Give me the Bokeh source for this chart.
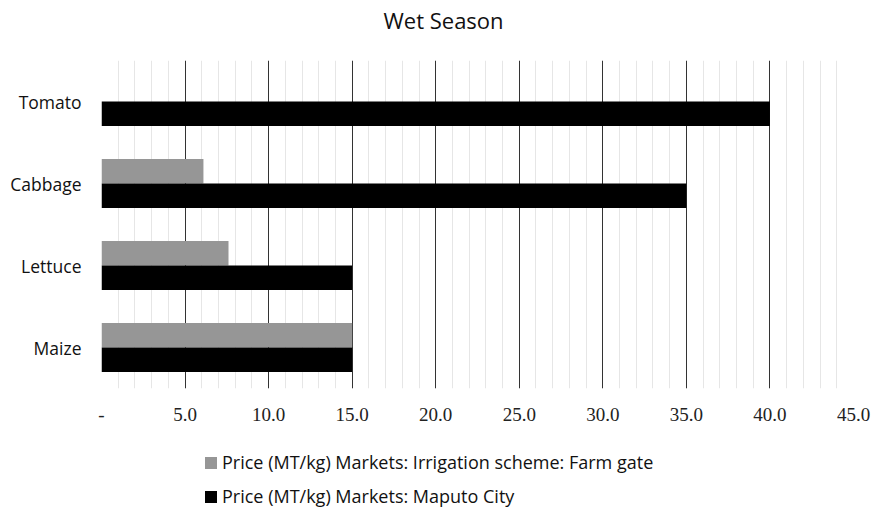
from bokeh.plotting import figure
from bokeh.layouts import column
from bokeh.models import (FactorRange, Range1d, SingleIntervalTicker, CustomJSTickFormatter,
                          Legend, LegendItem, ColumnDataSource, Title)
from bokeh.transform import dodge
from bokeh.embed import file_html
from bokeh.resources import INLINE

crops = ["Maize", "Lettuce", "Cabbage", "Tomato"]
farm_gate = [15.0, 7.6, 6.1, 0.0]
maputo_city = [15.0, 15.0, 35.0, 40.0]
series_names = ["Price (MT/kg) Markets: Irrigation scheme: Farm gate",
                "Price (MT/kg) Markets: Maputo City"]
series_colors = ["#969696", "#000000"]
chart_title = "Wet Season"

src = ColumnDataSource(dict(crop=crops, farm=farm_gate, city=maputo_city))

# Title strip
tf = figure(width=876, height=40, output_backend="svg", toolbar_location=None,
            x_range=Range1d(0, 1), y_range=Range1d(0, 1),
            x_axis_location=None, y_axis_location=None,
            min_border_left=101, min_border_right=23, min_border_top=0, min_border_bottom=0)
tf.outline_line_color = None
tf.xgrid.grid_line_color = None
tf.ygrid.grid_line_color = None
tf.title = Title(text=chart_title, align="left", offset=282, text_font="Open Sans",
                 text_font_size="22px", text_font_style="normal", text_color="#111111",
                 vertical_align="bottom", standoff=4)

p = figure(width=876, height=398, output_backend="svg", toolbar_location=None,
           y_range=FactorRange(factors=crops, range_padding=0),
           x_range=Range1d(0, 45),
           min_border_left=101, min_border_right=23, min_border_top=20, min_border_bottom=50)
p.outline_line_color = None
p.background_fill_color = "white"

r1 = p.hbar(y=dodge("crop", 0.15, range=p.y_range), right="farm", left=0, height=0.3,
            source=src, fill_color=series_colors[0], line_color=None)
r2 = p.hbar(y=dodge("crop", -0.15, range=p.y_range), right="city", left=0, height=0.3,
            source=src, fill_color=series_colors[1], line_color=None)

ticker = SingleIntervalTicker(interval=5, num_minor_ticks=5)
p.xaxis.ticker = ticker
p.xgrid.ticker = ticker
p.xgrid.grid_line_color = "#333333"
p.xgrid.grid_line_width = 1
p.xgrid.minor_grid_line_color = "#e6e6e6"
p.xgrid.minor_grid_line_width = 1
p.ygrid.grid_line_color = None

p.xaxis.formatter = CustomJSTickFormatter(code="return tick == 0 ? '-' : tick.toFixed(1);")
p.xaxis.axis_line_color = None
p.xaxis.major_tick_line_color = None
p.xaxis.minor_tick_line_color = None
p.xaxis.major_tick_out = 0
p.xaxis.minor_tick_out = 0
p.xaxis.major_label_standoff = 19
p.xaxis.major_label_text_font = "Liberation Serif"
p.xaxis.major_label_text_font_size = "19px"
p.xaxis.major_label_text_color = "#222222"

p.yaxis.axis_line_color = None
p.yaxis.major_tick_line_color = None
p.yaxis.minor_tick_line_color = None
p.yaxis.major_tick_out = 0
p.yaxis.major_label_standoff = 20
p.yaxis.major_label_text_font = "Open Sans"
p.yaxis.major_label_text_font_size = "17.5px"
p.yaxis.major_label_text_color = "#111111"

# Legend strip below the chart
lg = figure(width=876, height=75, output_backend="svg", toolbar_location=None,
            x_range=Range1d(0, 1), y_range=Range1d(0, 1),
            x_axis_location=None, y_axis_location=None,
            min_border_left=0, min_border_right=0, min_border_top=0, min_border_bottom=0)
lg.outline_line_color = None
lg.xgrid.grid_line_color = None
lg.ygrid.grid_line_color = None
proxy = ColumnDataSource(dict(y=[0.5], right=[0.0]))
g1 = lg.hbar(y="y", right="right", left=0, height=0.3, source=proxy,
             fill_color=series_colors[0], line_color=None)
g2 = lg.hbar(y="y", right="right", left=0, height=0.3, source=proxy,
             fill_color=series_colors[1], line_color=None)

legend = Legend(items=[LegendItem(label=series_names[0], renderers=[g1]),
                       LegendItem(label=series_names[1], renderers=[g2])],
                location=(102, 5), orientation="vertical",
                glyph_width=15, glyph_height=15, label_height=15, spacing=10,
                label_standoff=4, padding=0, margin=0,
                border_line_color=None, background_fill_alpha=0,
                label_text_font="Open Sans", label_text_font_size="18px",
                label_text_color="#111111")
lg.add_layout(legend, "center")

layout = column(tf, p, lg, spacing=0)
open("out.html", "w").write(file_html(layout, INLINE))
